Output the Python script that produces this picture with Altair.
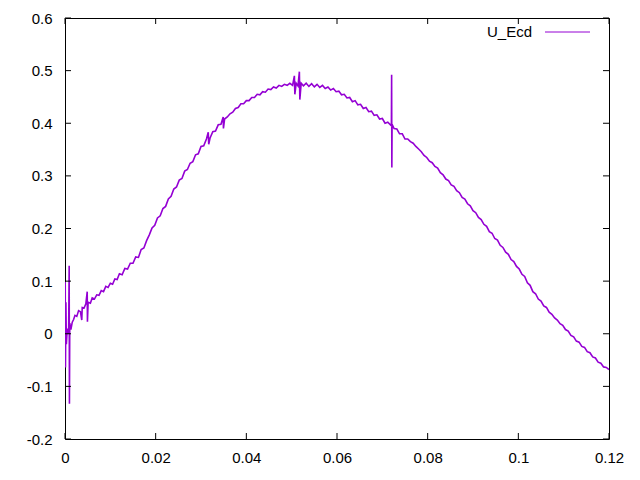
import altair as alt
import pandas as pd

xs = [0.0000, 0.00005, 0.0001, 0.0002, 0.0003, 0.0005, 0.0008, 0.00092, 0.00098, 0.00105,
      0.0013, 0.0016, 0.0019, 0.0022, 0.0026, 0.0030, 0.0034, 0.0037, 0.0038, 0.0042,
      0.0046, 0.0049, 0.00495, 0.0051, 0.0056, 0.0060, 0.0065, 0.0070, 0.0075, 0.0080,
      0.0085, 0.0090, 0.0095, 0.0100, 0.0105, 0.0110, 0.0115, 0.0120, 0.0126, 0.0132,
      0.0138, 0.0144, 0.0150, 0.0156, 0.0162, 0.0168, 0.0174, 0.0180, 0.0186, 0.0192,
      0.0198, 0.0204, 0.0210, 0.0216, 0.0222, 0.0228, 0.0234, 0.0240, 0.0246, 0.0252,
      0.0258, 0.0264, 0.0270, 0.0276, 0.0282, 0.0288, 0.0294, 0.0300, 0.0306, 0.0312,
      0.0316, 0.0317, 0.0320, 0.0326, 0.0332, 0.0338, 0.0344, 0.0349, 0.03495, 0.0352,
      0.0358, 0.0364, 0.0370, 0.0376, 0.0382, 0.0388, 0.0394, 0.0400, 0.0406, 0.0412,
      0.0418, 0.0424, 0.0430, 0.0436, 0.0442, 0.0448, 0.0454, 0.0460, 0.0466, 0.0472,
      0.0478, 0.0484, 0.0490, 0.0496, 0.0502, 0.0506, 0.0507, 0.0510, 0.0514, 0.0517,
      0.0518, 0.0521, 0.0526, 0.0532, 0.0538, 0.0544, 0.0550, 0.0556, 0.0562, 0.0568,
      0.0574, 0.0580, 0.0586, 0.0592, 0.0598, 0.0604, 0.0610, 0.0616, 0.0622, 0.0628,
      0.0634, 0.0640, 0.0646, 0.0652, 0.0658, 0.0664, 0.0670, 0.0676, 0.0682, 0.0688,
      0.0694, 0.0700, 0.0706, 0.0712, 0.0720, 0.07205, 0.0721, 0.07215, 0.0726, 0.0732,
      0.0738, 0.0744, 0.0750, 0.0756, 0.0762, 0.0768, 0.0774, 0.0780, 0.0786, 0.0792,
      0.0798, 0.0804, 0.0810, 0.0816, 0.0822, 0.0828, 0.0834, 0.0840, 0.0846, 0.0852,
      0.0858, 0.0864, 0.0870, 0.0876, 0.0882, 0.0888, 0.0894, 0.0900, 0.0906, 0.0912,
      0.0918, 0.0924, 0.0930, 0.0936, 0.0942, 0.0948, 0.0954, 0.0960, 0.0966, 0.0972,
      0.0978, 0.0984, 0.0990, 0.0996, 0.1002, 0.1008, 0.1014, 0.1020, 0.1026, 0.1032,
      0.1038, 0.1044, 0.1050, 0.1056, 0.1062, 0.1068, 0.1074, 0.1080, 0.1086, 0.1092,
      0.1098, 0.1104, 0.1110, 0.1116, 0.1122, 0.1128, 0.1134, 0.1140, 0.1146, 0.1152,
      0.1158, 0.1164, 0.1170, 0.1176, 0.1182, 0.1188, 0.1194, 0.1200]

ys = [0.000, 0.099, -0.064, 0.060, -0.020, 0.010, 0.000, 0.129, -0.133, 0.020,
      0.008, 0.022, 0.027, 0.035, 0.033, 0.044, 0.042, 0.026, 0.050, 0.049,
      0.057, 0.080, 0.023, 0.060, 0.058, 0.068, 0.066, 0.074, 0.073, 0.082,
      0.080, 0.090, 0.088, 0.096, 0.094, 0.104, 0.103, 0.114, 0.112, 0.124,
      0.123, 0.134, 0.134, 0.146, 0.145, 0.160, 0.163, 0.177, 0.188, 0.201,
      0.206, 0.220, 0.224, 0.238, 0.242, 0.256, 0.261, 0.275, 0.279, 0.292,
      0.295, 0.309, 0.312, 0.324, 0.327, 0.340, 0.342, 0.356, 0.357, 0.370,
      0.383, 0.360, 0.372, 0.384, 0.385, 0.397, 0.398, 0.412, 0.390, 0.408,
      0.412, 0.418, 0.421, 0.428, 0.430, 0.437, 0.437, 0.443, 0.443, 0.449,
      0.449, 0.455, 0.454, 0.460, 0.459, 0.465, 0.464, 0.469, 0.467, 0.472,
      0.470, 0.474, 0.472, 0.476, 0.472, 0.490, 0.455, 0.476, 0.471, 0.498,
      0.445, 0.476, 0.471, 0.476, 0.470, 0.475, 0.469, 0.474, 0.468, 0.472,
      0.466, 0.469, 0.463, 0.466, 0.460, 0.461, 0.454, 0.455, 0.448, 0.449,
      0.441, 0.443, 0.435, 0.436, 0.428, 0.430, 0.422, 0.423, 0.415, 0.416,
      0.408, 0.409, 0.400, 0.402, 0.395, 0.492, 0.316, 0.398, 0.390, 0.389,
      0.380, 0.380, 0.370, 0.370, 0.365, 0.362, 0.356, 0.351, 0.346, 0.339,
      0.335, 0.328, 0.325, 0.318, 0.315, 0.306, 0.302, 0.294, 0.291, 0.283,
      0.280, 0.272, 0.268, 0.259, 0.256, 0.247, 0.243, 0.234, 0.230, 0.221,
      0.217, 0.208, 0.204, 0.194, 0.191, 0.181, 0.178, 0.168, 0.164, 0.155,
      0.151, 0.141, 0.137, 0.128, 0.123, 0.113, 0.109, 0.097, 0.092, 0.080,
      0.076, 0.066, 0.062, 0.053, 0.050, 0.041, 0.037, 0.030, 0.026, 0.019,
      0.016, 0.008, 0.005, -0.003, -0.006, -0.014, -0.016, -0.024, -0.026, -0.034,
      -0.036, -0.044, -0.046, -0.054, -0.056, -0.063, -0.064, -0.068]

x_ticks = [0, 0.02, 0.04, 0.06, 0.08, 0.1, 0.12]
y_ticks = [-0.2, -0.1, 0, 0.1, 0.2, 0.3, 0.4, 0.5, 0.6]
series_name = "U_Ecd"

FONT = "Liberation Sans"
COLOR = "#9400d3"
W, H = 544, 421
TICK = 6

df = pd.DataFrame({"x": xs, "y": ys, "order": list(range(len(xs)))})
xt = pd.DataFrame({"x": x_ticks})
yt = pd.DataFrame({"y": y_ticks})

xscale = alt.Scale(domain=[0, 0.12], nice=False, zero=False)
yscale = alt.Scale(domain=[-0.2, 0.6], nice=False, zero=False)

lab = "replace(format(datum.value, '~g'), '\u2212', '-')"

line = alt.Chart(df).mark_line(color=COLOR, strokeWidth=1.6, clip=True).encode(
    x=alt.X("x:Q", scale=xscale,
            axis=alt.Axis(values=x_ticks, title=None, ticks=False, domain=False, grid=False,
                          labelExpr=lab, labelFont=FONT, labelFontSize=15, labelColor="black",
                          labelPadding=11, labelFlush=False)),
    y=alt.Y("y:Q", scale=yscale,
            axis=alt.Axis(values=y_ticks, title=None, ticks=False, domain=False, grid=False,
                          labelExpr=lab, labelFont=FONT, labelFontSize=15, labelColor="black",
                          labelPadding=13, labelFlush=False)),
    order="order:Q",
)

xt_bottom = alt.Chart(xt).mark_rule(color="black", strokeWidth=1).encode(
    x=alt.X("x:Q", scale=xscale), y=alt.value(H), y2=alt.value(H - TICK))
xt_top = alt.Chart(xt).mark_rule(color="black", strokeWidth=1).encode(
    x=alt.X("x:Q", scale=xscale), y=alt.value(0), y2=alt.value(TICK))
yt_left = alt.Chart(yt).mark_rule(color="black", strokeWidth=1).encode(
    y=alt.Y("y:Q", scale=yscale), x=alt.value(0), x2=alt.value(TICK))
yt_right = alt.Chart(yt).mark_rule(color="black", strokeWidth=1).encode(
    y=alt.Y("y:Q", scale=yscale), x=alt.value(W), x2=alt.value(W - TICK))

leg_df = pd.DataFrame({"name": [series_name]})
leg_text = alt.Chart(leg_df).mark_text(
    align="right", baseline="middle", font=FONT, fontSize=15, color="black"
).encode(text="name:N", x=alt.value(467), y=alt.value(14))
leg_line = alt.Chart(leg_df).mark_rule(color=COLOR, strokeWidth=1).encode(
    x=alt.value(480), x2=alt.value(525), y=alt.value(14))

chart = alt.layer(line, xt_bottom, xt_top, yt_left, yt_right, leg_text, leg_line).properties(
    width=W, height=H,
    padding={"left": 57, "top": 10, "right": 23, "bottom": 33},
    autosize=alt.AutoSizeParams(type="none"),
    background="white",
).configure_view(stroke="black", strokeWidth=1)

chart.save("out.html", embed_options={"renderer": "svg", "actions": False})
